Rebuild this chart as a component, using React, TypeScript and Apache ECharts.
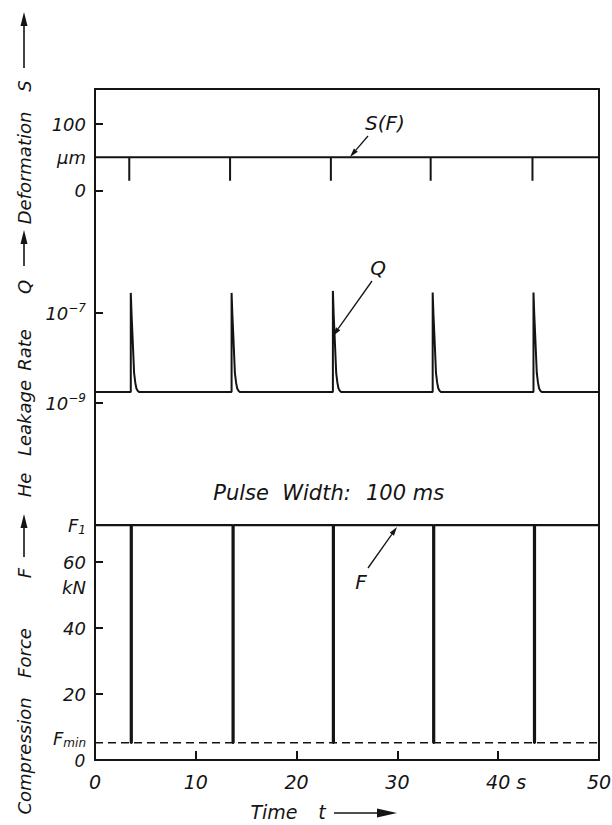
import React, { useEffect, useRef } from 'react';
import * as echarts from 'echarts';

// ---------- data ----------
const timeTicks = [0, 10, 20, 30, 40, 50];

// Deformation S (µm)
const sTickValues = [0, 100];
const sLabelValues = [100, 50, 0]; // 50 carries the unit label "µm"
const sLevel = 50;
const sDipLevel = 15;
const sDipTimes = [3.4, 13.4, 23.4, 33.3, 43.4];

// He leakage rate Q
const qTickValues = [1e-7, 1e-9];
const qBase = 1.75e-9;
const qPeakTimes = [3.55, 13.55, 23.6, 33.5, 43.5];
const qPeakValues = [2.8e-7, 2.8e-7, 3.1e-7, 2.85e-7, 2.85e-7];
const qDecayOffsets = [0.08, 0.16, 0.25, 0.33, 0.45, 0.56, 0.7, 0.85];
const qDecayValues = [9e-8, 3.6e-8, 1.2e-8, 4.6e-9, 2.8e-9, 2.1e-9, 1.85e-9, 1.75e-9];

// Compression force F (kN)
const fTickValues = [20, 40, 60];
const fHigh = 71.2; // F1
const fMin = 5.2; // Fmin
const fPulseTimes = [3.55, 13.65, 23.6, 33.55, 43.55];
const pulseWidth = 0.1; // 100 ms
const fUnitValue = 52.4; // "kN" row
const fMinLabelValue = 6.6;
const fLabelValues = [fHigh, 60, fUnitValue, 40, 20, fMinLabelValue];

// ---------- build series ----------
const sData: number[][] = [[0, sLevel]];
sDipTimes.forEach((t) => {
  sData.push([t, sLevel], [t, sDipLevel], [t, sLevel]);
});
sData.push([50, sLevel]);

const qData: number[][] = [[0, qBase]];
qPeakTimes.forEach((t, i) => {
  qData.push([t, qBase], [t, qPeakValues[i]]);
  qDecayOffsets.forEach((d, j) => qData.push([t + d, qDecayValues[j]]));
});
qData.push([50, qBase]);

const fData: number[][] = [[0, fHigh]];
fPulseTimes.forEach((t) => {
  fData.push([t, fHigh], [t, fMin], [t + pulseWidth, fMin], [t + pulseWidth, fHigh]);
});
fData.push([50, fHigh]);

const fMinLine = [
  [0, fMin],
  [50, fMin],
];

// ---------- styling ----------
const FONT = "'DejaVu Sans', 'Liberation Sans', sans-serif";
const INK = '#141414';
const AXIS_W = 2;

const GRID_LEFT = 95;
const GRID_W = 504;

const labelBase = {
  fontFamily: FONT,
  fontStyle: 'italic' as const,
  fontSize: 18,
  color: INK,
};

const richScripts = {
  b: { ...labelBase, lineHeight: 22, verticalAlign: 'middle' },
  sup: { ...labelBase, fontSize: 12, lineHeight: 12, verticalAlign: 'top' },
  sub: { ...labelBase, fontSize: 12, lineHeight: 12, verticalAlign: 'bottom' },
  h: { ...labelBase, fontSize: 19, color: 'rgba(0,0,0,0)' },
};

function vText(text: string, y: number, x = 24, size = 18) {
  return {
    type: 'text',
    x,
    y,
    rotation: Math.PI / 2,
    silent: true,
    style: {
      text,
      fill: INK,
      fontFamily: FONT,
      fontStyle: 'italic',
      fontSize: size,
      textAlign: 'center',
      textVerticalAlign: 'middle',
      align: 'center',
      verticalAlign: 'middle',
    },
  };
}

function hText(text: string, x: number, y: number, size = 20) {
  return {
    type: 'text',
    x,
    y,
    silent: true,
    style: {
      text,
      fill: INK,
      fontFamily: FONT,
      fontStyle: 'italic',
      fontSize: size,
      textAlign: 'center',
      textVerticalAlign: 'middle',
      align: 'center',
      verticalAlign: 'middle',
    },
  };
}

function upArrow(x: number, tail: number, tip: number) {
  return [
    { type: 'line', silent: true, shape: { x1: x, y1: tail, x2: x, y2: tip + 10 }, style: { stroke: INK, lineWidth: 1.6 } },
    {
      type: 'polygon',
      silent: true,
      shape: { points: [[x, tip], [x - 3.5, tip + 14], [x + 3.5, tip + 14]] },
      style: { fill: INK },
    },
  ];
}

function leader(x1: number, y1: number, x2: number, y2: number) {
  const dx = x2 - x1;
  const dy = y2 - y1;
  const L = Math.hypot(dx, dy);
  const ux = dx / L;
  const uy = dy / L;
  const hl = 9;
  const hw = 2.6;
  const bx = x2 - ux * hl;
  const by = y2 - uy * hl;
  return [
    { type: 'line', silent: true, shape: { x1, y1, x2: bx, y2: by }, style: { stroke: INK, lineWidth: 1.3 } },
    {
      type: 'polygon',
      silent: true,
      shape: { points: [[x2, y2], [bx - uy * hw, by + ux * hw], [bx + uy * hw, by - ux * hw]] },
      style: { fill: INK },
    },
  ];
}

function frameAxis(gridIndex: number) {
  return {
    type: 'value',
    gridIndex,
    position: 'right',
    min: 0,
    max: 1,
    axisLine: { show: true, onZero: false, lineStyle: { color: INK, width: AXIS_W } },
    axisTick: { show: false },
    axisLabel: { show: false },
    splitLine: { show: false },
  };
}

const near = (a: number, b: number) => Math.abs(a - b) < 0.05;

export default function App() {
  const ref = useRef<HTMLDivElement>(null);

  useEffect(() => {
    if (!ref.current) return;
    const chart = echarts.init(ref.current, undefined, { renderer: 'svg' });

    const option: any = {
      animation: false,
      backgroundColor: '#ffffff',
      grid: [
        { left: GRID_LEFT, top: 89, width: GRID_W, height: 136, outerBoundsMode: 'none' },
        { left: GRID_LEFT, top: 225, width: GRID_W, height: 245, outerBoundsMode: 'none' },
        { left: GRID_LEFT, top: 470, width: GRID_W, height: 290, outerBoundsMode: 'none' },
      ],
      xAxis: [
        {
          type: 'value',
          gridIndex: 0,
          position: 'top',
          min: 0,
          max: 50,
          axisLine: { show: true, onZero: false, lineStyle: { color: INK, width: AXIS_W } },
          axisTick: { show: false },
          axisLabel: { show: false },
          splitLine: { show: false },
        },
        {
          type: 'value',
          gridIndex: 1,
          min: 0,
          max: 50,
          show: false,
        },
        {
          type: 'value',
          gridIndex: 2,
          position: 'bottom',
          min: 0,
          max: 50,
          interval: 10,
          axisLine: { show: true, onZero: false, lineStyle: { color: INK, width: AXIS_W } },
          axisTick: {
            show: true,
            inside: true,
            length: 9,
            customValues: timeTicks.slice(1, -1),
            lineStyle: { color: INK, width: AXIS_W },
          },
          axisLabel: {
            customValues: timeTicks,
            ...labelBase,
            fontSize: 19,
            margin: 12,
            showMinLabel: true,
            showMaxLabel: true,
            formatter: (v: number) => (v === 40 ? '{h|\u00a0s}40\u00a0s' : String(v)),
            rich: richScripts,
          },
          splitLine: { show: false },
        },
      ],
      yAxis: [
        {
          type: 'value',
          gridIndex: 0,
          position: 'left',
          min: -51.5,
          max: 152.5,
          axisLine: { show: true, onZero: false, lineStyle: { color: INK, width: AXIS_W } },
          axisTick: {
            show: true,
            inside: true,
            length: 8,
            customValues: sTickValues,
            lineStyle: { color: INK, width: AXIS_W },
          },
          axisLabel: {
            customValues: sLabelValues,
            ...labelBase,
            margin: 9,
            formatter: (v: number) => (near(v, sLevel) ? '\u03bcm' : String(v)),
          },
          splitLine: { show: false },
        },
        {
          type: 'log',
          logBase: 10,
          gridIndex: 1,
          position: 'left',
          min: Math.pow(10, -10.489),
          max: Math.pow(10, -5.044),
          axisLine: { show: true, onZero: false, lineStyle: { color: INK, width: AXIS_W } },
          axisTick: {
            show: true,
            inside: true,
            length: 8,
            customValues: qTickValues,
            lineStyle: { color: INK, width: AXIS_W },
          },
          axisLabel: {
            customValues: qTickValues,
            ...labelBase,
            margin: 9,
            formatter: (v: number) => {
              const e = Math.round(Math.log10(v));
              return `{b|10}{sup|\u2212${-e}}`;
            },
            rich: richScripts,
          },
          splitLine: { show: false },
        },
        {
          type: 'value',
          gridIndex: 2,
          position: 'left',
          min: 0,
          max: 87.9,
          axisLine: { show: true, onZero: false, lineStyle: { color: INK, width: AXIS_W } },
          axisTick: {
            show: true,
            inside: true,
            length: 8,
            customValues: fTickValues,
            lineStyle: { color: INK, width: AXIS_W },
          },
          axisLabel: {
            customValues: fLabelValues,
            ...labelBase,
            margin: 9,
            formatter: (v: number) => {
              if (near(v, fHigh)) return '{b|F}{sub|1}';
              if (near(v, fUnitValue)) return '{b|kN}';
              if (near(v, fMinLabelValue)) return '{b|F}{sub|min}';
              return `{b|${v}}`;
            },
            rich: richScripts,
          },
          splitLine: { show: false },
        },
        frameAxis(0),
        frameAxis(1),
        frameAxis(2),
      ],
      series: [
        {
          name: 'S(F)',
          type: 'line',
          xAxisIndex: 0,
          yAxisIndex: 0,
          data: sData,
          symbol: 'none',
          silent: true,
          lineStyle: { color: INK, width: 2 },
        },
        {
          name: 'Q',
          type: 'line',
          xAxisIndex: 1,
          yAxisIndex: 1,
          data: qData,
          symbol: 'none',
          silent: true,
          lineStyle: { color: INK, width: 2 },
        },
        {
          name: 'F',
          type: 'line',
          xAxisIndex: 2,
          yAxisIndex: 2,
          data: fData,
          symbol: 'none',
          silent: true,
          lineStyle: { color: INK, width: 2.2 },
        },
        {
          name: 'Fmin',
          type: 'line',
          xAxisIndex: 2,
          yAxisIndex: 2,
          data: fMinLine,
          symbol: 'none',
          silent: true,
          lineStyle: { color: INK, width: 1.5, type: [8, 5] },
        },
      ],
      graphic: [
        // left vertical axis title
        vText('Compression', 756),
        vText('Force', 653),
        vText('F', 573),
        ...upArrow(24, 557, 514),
        vText('He', 485),
        vText('Leakage', 418),
        vText('Rate', 350),
        vText('Q', 287),
        ...upArrow(24, 266, 230),
        vText('Deformation', 168),
        vText('S', 86),
        ...upArrow(24, 68, 12),
        // zero of the force axis (sits just above the time-axis origin)
        hText('0', 80, 761, 17),
        // bottom axis title
        hText('Time', 274, 812, 19),
        hText('t', 322, 812, 19),
        { type: 'line', silent: true, shape: { x1: 334, y1: 813, x2: 380, y2: 813 }, style: { stroke: INK, lineWidth: 1.6 } },
        { type: 'polygon', silent: true, shape: { points: [[397, 813], [377, 808.5], [377, 817.5]] }, style: { fill: INK } },
        // annotations
        hText('S(F)', 385, 123, 20),
        ...leader(368, 136, 350, 157),
        hText('Q', 378, 268, 20),
        ...leader(372, 281, 333, 336),
        hText('Pulse  Width:', 282, 493, 21),
        hText('100 ms', 405, 493, 21),
        hText('F', 361, 582, 20),
        ...leader(368, 568, 397, 527),
      ],
    };

    chart.setOption(option);
    return () => chart.dispose();
  }, []);

  return (
    <div
      ref={ref}
      style={{ position: 'fixed', left: 0, top: 0, width: 612, height: 825, background: '#fff' }}
    />
  );
}
